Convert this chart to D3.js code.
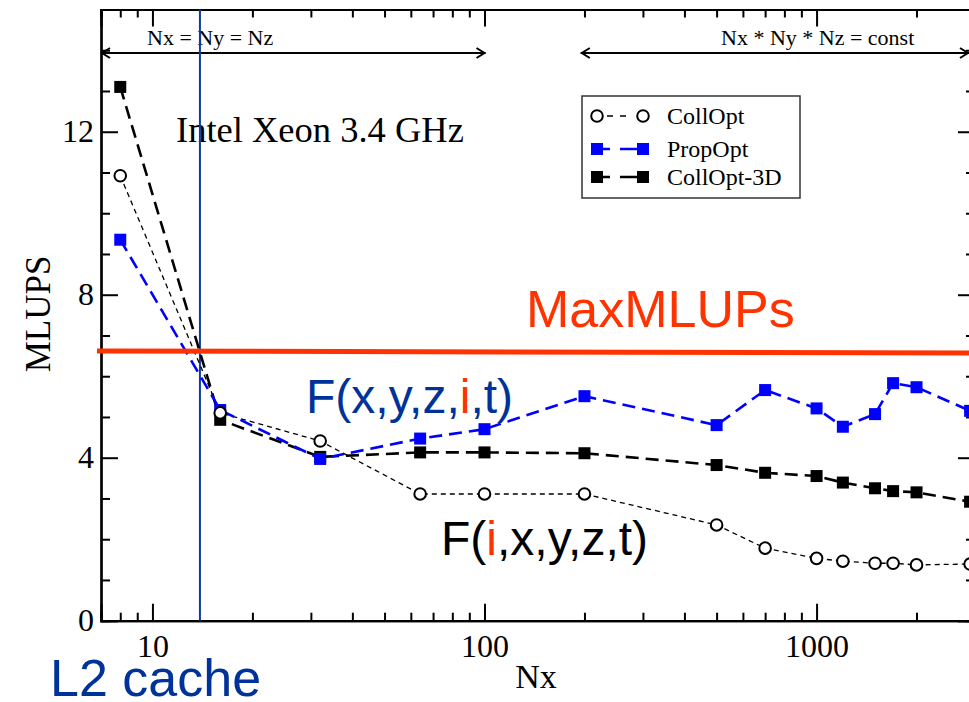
<!DOCTYPE html>
<html>
<head>
<meta charset="utf-8">
<script src="https://cdn.jsdelivr.net/npm/d3@7/dist/d3.min.js"></script>
<style>
  html, body { margin: 0; padding: 0; background: #fff; overflow: hidden; }
  svg { display: block; }
</style>
</head>
<body>
<svg id="chart" width="969" height="702"></svg>
<script>
// Lattice sizes Nx and measured MLUPS for the three kernels
const nx = [8, 16, 32, 64, 100, 200, 500, 700, 1000, 1200, 1500, 1700, 2000, 2900];
const collOpt   = [10.92, 5.10, 4.41, 3.11, 3.11, 3.11, 2.35, 1.78, 1.53, 1.46, 1.41, 1.41, 1.37, 1.39];
const propOpt   = [9.35, 5.17, 3.97, 4.47, 4.70, 5.51, 4.80, 5.66, 5.21, 4.76, 5.07, 5.83, 5.73, 5.15];
const collOpt3D = [13.10, 4.93, 4.02, 4.13, 4.13, 4.11, 3.82, 3.63, 3.55, 3.39, 3.25, 3.18, 3.15, 2.92];

const seriesNames = ["CollOpt", "PropOpt", "CollOpt-3D"];
const xTickLabels = [10, 100, 1000];
const yTickLabels = [0, 4, 8, 12];

const l2CacheNx = 13.9;            // L2 cache limit
const maxMLUPs = [6.62, 6.57];     // bandwidth bound, left and right ends
const cubeRangeEnd = 100;          // Nx = Ny = Nz region ends here
const constRangeStart = 195;       // Nx*Ny*Nz = const region starts here

const serif = "'Liberation Serif', 'Times New Roman', serif";
const sans = "'Liberation Sans', Arial, sans-serif";

const svg = d3.select("#chart");
const x = d3.scaleLog().domain([7, 3000]).range([101, 975]);
const y = d3.scaleLinear().domain([0, 15]).range([620.7, 9.5]);

const [x0, x1] = x.range();
const [yb, yt] = y.range();

// minor log ticks
const xMinor = [];
for (let d = 1; d <= 1000; d *= 10) {
  for (let k = 1; k <= 9; k++) {
    const v = d * k;
    if (v >= 7 && v <= 3000 && !xTickLabels.includes(v)) xMinor.push(v);
  }
}
const yMinor = d3.range(0, 16).filter(v => !yTickLabels.includes(v));

// bottom and top axes
const xb = d3.axisBottom(x).tickValues(xTickLabels).tickSize(-17).tickFormat(d3.format("d")).tickPadding(14);
svg.append("g").attr("transform", `translate(0,${yb})`).call(xb);
const xbm = d3.axisBottom(x).tickValues(xMinor).tickSize(-8).tickFormat("");
svg.append("g").attr("transform", `translate(0,${yb})`).call(xbm);
const xt = d3.axisTop(x).tickValues(xTickLabels).tickSize(-17).tickFormat("");
svg.append("g").attr("transform", `translate(0,${yt})`).call(xt);
const xtm = d3.axisTop(x).tickValues(xMinor).tickSize(-8).tickFormat("");
svg.append("g").attr("transform", `translate(0,${yt})`).call(xtm);

// left and right axes
const yl = d3.axisLeft(y).tickValues(yTickLabels).tickSize(-17).tickFormat(d3.format("d")).tickPadding(7);
svg.append("g").attr("transform", `translate(${x0},0)`).call(yl);
const ylm = d3.axisLeft(y).tickValues(yMinor).tickSize(-9).tickFormat("");
svg.append("g").attr("transform", `translate(${x0},0)`).call(ylm);
const yr = d3.axisRight(y).tickValues(yTickLabels).tickSize(-17).tickFormat("");
svg.append("g").attr("transform", `translate(${x1},0)`).call(yr);
const yrm = d3.axisRight(y).tickValues(yMinor).tickSize(-9).tickFormat("");
svg.append("g").attr("transform", `translate(${x1},0)`).call(yrm);

svg.selectAll(".domain").attr("stroke", "#000").attr("stroke-width", 2.2);
svg.selectAll(".tick line").attr("stroke", "#000").attr("stroke-width", 2);
svg.selectAll(".tick text")
  .attr("font-family", serif).attr("font-size", 32).attr("fill", "#000");

// axis titles
svg.append("text")
  .attr("x", 536).attr("y", 688)
  .attr("text-anchor", "middle")
  .attr("font-family", serif).attr("font-size", 34)
  .text("Nx");
svg.append("text")
  .attr("transform", "translate(50,314) rotate(-90)")
  .attr("text-anchor", "middle")
  .attr("font-family", serif).attr("font-size", 35)
  .text("MLUPS");

// region annotations with double arrows
function doubleArrow(xa, xb2, yy) {
  const g = svg.append("g").attr("stroke", "#000").attr("stroke-width", 2).attr("fill", "none");
  g.append("line").attr("x1", xa).attr("x2", xb2).attr("y1", yy).attr("y2", yy);
  g.append("path").attr("d", `M${xa + 9},${yy - 5} L${xa + 1},${yy} L${xa + 9},${yy + 5}`);
  g.append("path").attr("d", `M${xb2 - 9},${yy - 5} L${xb2 - 1},${yy} L${xb2 - 9},${yy + 5}`);
}
doubleArrow(x0, x(cubeRangeEnd) + 1, 53);
doubleArrow(x(constRangeStart), 969, 53);
svg.append("text").attr("x", 147).attr("y", 45)
  .attr("font-family", serif).attr("font-size", 22).text("Nx = Ny = Nz");
svg.append("text").attr("x", 721).attr("y", 45)
  .attr("font-family", serif).attr("font-size", 22).text("Nx * Ny * Nz = const");

svg.append("text").attr("x", 176).attr("y", 142)
  .attr("font-family", serif).attr("font-size", 36.5).text("Intel Xeon 3.4 GHz");

// L2 cache boundary
svg.append("line")
  .attr("x1", x(l2CacheNx)).attr("x2", x(l2CacheNx))
  .attr("y1", yt).attr("y2", yb)
  .attr("stroke", "#0d3b9e").attr("stroke-width", 2);

// series lines
const line = d3.line().x(d => x(d[0])).y(d => y(d[1]));
const zipped = vals => nx.map((n, i) => [n, vals[i]]);

svg.append("path").datum(zipped(collOpt))
  .attr("d", line).attr("fill", "none")
  .attr("stroke", "#000").attr("stroke-width", 1.3).attr("stroke-dasharray", "5,4");
svg.append("path").datum(zipped(collOpt3D))
  .attr("d", line).attr("fill", "none")
  .attr("stroke", "#000").attr("stroke-width", 2.6).attr("stroke-dasharray", "13,7");
svg.append("path").datum(zipped(propOpt))
  .attr("d", line).attr("fill", "none")
  .attr("stroke", "#0000ff").attr("stroke-width", 2.6).attr("stroke-dasharray", "13,7");

// markers
const sq = 12;
svg.append("g").selectAll("rect").data(zipped(collOpt3D)).join("rect")
  .attr("x", d => x(d[0]) - sq / 2).attr("y", d => y(d[1]) - sq / 2)
  .attr("width", sq).attr("height", sq).attr("fill", "#000");
svg.append("g").selectAll("rect").data(zipped(propOpt)).join("rect")
  .attr("x", d => x(d[0]) - sq / 2).attr("y", d => y(d[1]) - sq / 2)
  .attr("width", sq).attr("height", sq).attr("fill", "#0000ff");
svg.append("g").selectAll("circle").data(zipped(collOpt)).join("circle")
  .attr("cx", d => x(d[0])).attr("cy", d => y(d[1])).attr("r", 5.8)
  .attr("fill", "#fff").attr("stroke", "#000").attr("stroke-width", 2);

// legend
const lg = svg.append("g");
lg.append("rect").attr("x", 582).attr("y", 96).attr("width", 218).attr("height", 102)
  .attr("fill", "#fff").attr("stroke", "#333").attr("stroke-width", 1.5);
const rowsY = [116, 149, 177];
const lx1 = 597, lx2 = 643;
// CollOpt row
lg.append("line").attr("x1", lx1).attr("x2", lx2).attr("y1", rowsY[0]).attr("y2", rowsY[0])
  .attr("stroke", "#000").attr("stroke-width", 1.5).attr("stroke-dasharray", "0,10,6,7,6,30");
[lx1, lx2].forEach(cx => lg.append("circle").attr("cx", cx).attr("cy", rowsY[0]).attr("r", 5.8)
  .attr("fill", "#fff").attr("stroke", "#000").attr("stroke-width", 2));
// PropOpt and CollOpt-3D rows
[["#0000ff", rowsY[1]], ["#000", rowsY[2]]].forEach(([c, ry]) => {
  lg.append("line").attr("x1", lx1).attr("x2", lx2).attr("y1", ry).attr("y2", ry)
    .attr("stroke", c).attr("stroke-width", 2.6).attr("stroke-dasharray", "13,10,30");
  [lx1, lx2].forEach(cx => lg.append("rect").attr("x", cx - sq / 2).attr("y", ry - sq / 2)
    .attr("width", sq).attr("height", sq).attr("fill", c));
});
seriesNames.forEach((name, i) => {
  lg.append("text").attr("x", 667).attr("y", rowsY[i] + 7.5)
    .attr("font-family", serif).attr("font-size", 24).text(name);
});

// bandwidth limit
svg.append("line")
  .attr("x1", x0 - 4).attr("x2", 969)
  .attr("y1", y(maxMLUPs[0])).attr("y2", y(maxMLUPs[1]))
  .attr("stroke", "#ff3300").attr("stroke-width", 5);
svg.append("text").attr("x", 526).attr("y", 327)
  .attr("font-family", sans).attr("font-size", 52).attr("fill", "#ff3300")
  .text("MaxMLUPs");

// memory layout labels
const t1 = svg.append("text").attr("x", 306).attr("y", 413)
  .attr("font-family", sans).attr("font-size", 48).attr("fill", "#003399");
t1.append("tspan").text("F(x,y,z,");
t1.append("tspan").attr("fill", "#ff3300").text("i");
t1.append("tspan").text(",t)");

const t2 = svg.append("text").attr("x", 441).attr("y", 555)
  .attr("font-family", sans).attr("font-size", 48).attr("fill", "#000");
t2.append("tspan").text("F(");
t2.append("tspan").attr("fill", "#ff3300").text("i");
t2.append("tspan").text(",x,y,z,t)");

svg.append("text").attr("x", 50).attr("y", 696)
  .attr("font-family", sans).attr("font-size", 52).attr("fill", "#003399")
  .text("L2 cache");
</script>
</body>
</html>
